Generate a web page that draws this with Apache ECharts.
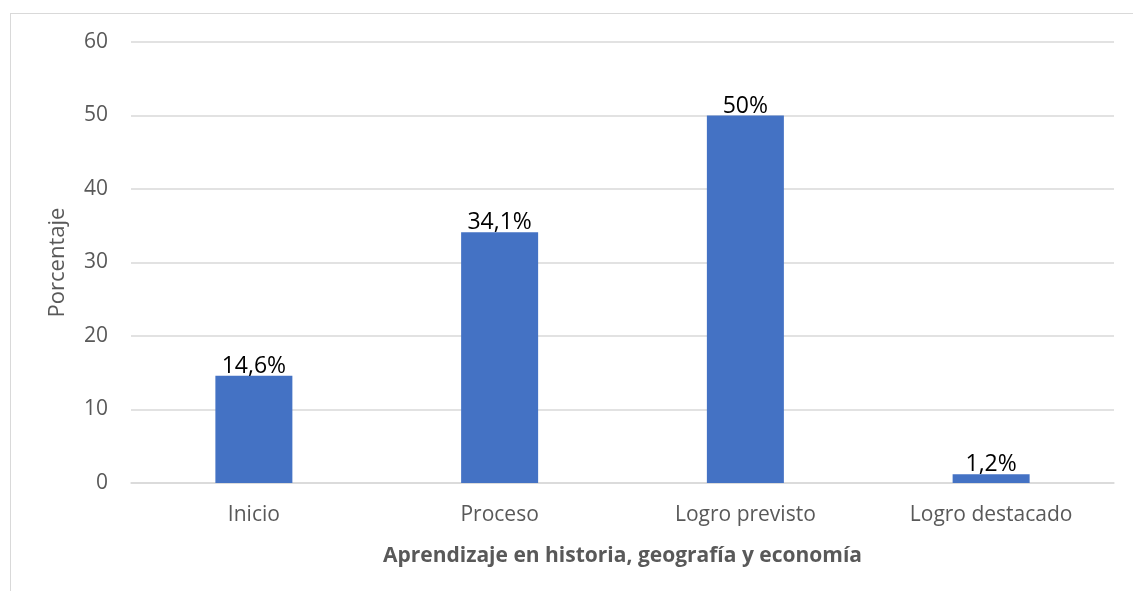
<!DOCTYPE html>
<html>
<head>
<meta charset="utf-8">
<script src="https://cdn.jsdelivr.net/npm/echarts@6/dist/echarts.min.js"></script>
<style>
  html, body { margin: 0; padding: 0; background: #fff; }
  #frame {
    position: absolute; left: 10px; top: 13px; right: -2px; bottom: -2px;
    border: 1px solid #d9d9d9;
  }
  #chart { position: absolute; left: 0; top: 0; width: 1133px; height: 591px; }
</style>
</head>
<body>
<div id="frame"></div>
<div id="chart"></div>
<script>
const categories = ['Inicio', 'Proceso', 'Logro previsto', 'Logro destacado']
const values = [14.6, 34.1, 50, 1.2]
const valueLabels = ['14,6%', '34,1%', '50%', '1,2%']

const font = '"Open Sans", sans-serif'
const chart = echarts.init(document.getElementById('chart'))

chart.setOption({
  animation: false,
  grid: { left: 131, right: 19, top: 42, bottom: 108 },
  xAxis: {
    type: 'category',
    data: categories,
    name: 'Aprendizaje en historia, geografía y economía',
    nameLocation: 'middle',
    nameGap: 63,
    nameTextStyle: { color: '#595959', fontSize: 21, fontWeight: 'bold', fontFamily: font },
    axisLine: { lineStyle: { color: '#d9d9d9', width: 1.5 } },
    axisTick: { show: false },
    axisLabel: { color: '#595959', fontSize: 21, fontFamily: font, margin: 22 },
  },
  yAxis: {
    type: 'value',
    min: 0,
    max: 60,
    interval: 10,
    name: 'Porcentaje',
    nameLocation: 'middle',
    nameGap: 62,
    nameTextStyle: { color: '#595959', fontSize: 22, fontFamily: font },
    axisLine: { show: false },
    axisTick: { show: false },
    splitLine: { lineStyle: { color: '#d9d9d9', width: 1.5 } },
    axisLabel: { color: '#595959', fontSize: 21, fontFamily: font, margin: 23 },
  },
  series: [
    {
      type: 'bar',
      data: values,
      barWidth: 77,
      itemStyle: { color: '#4472c4' },
      label: {
        show: true,
        position: 'top',
        distance: -2,
        color: '#000',
        fontSize: 23,
        fontFamily: font,
        formatter: (p) => valueLabels[p.dataIndex],
      },
    },
  ],
})
</script>
</body>
</html>
